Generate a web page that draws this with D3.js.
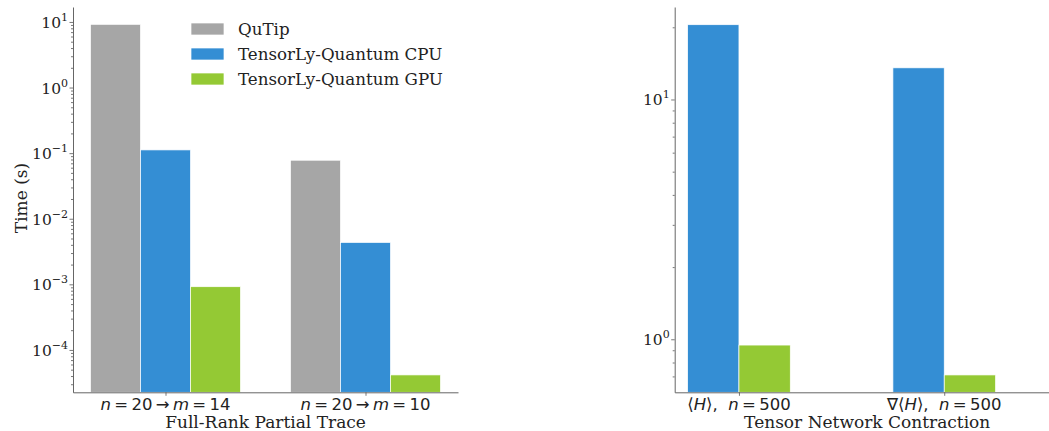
<!DOCTYPE html>
<html>
<head>
<meta charset="utf-8">
<script src="https://cdn.jsdelivr.net/npm/d3@7"></script>
<style>
body { margin: 0; background: #fff; }
svg { display: block; }
</style>
</head>
<body>
<svg id="chart" width="1049" height="431"></svg>
<script>
// series / categories
var seriesNames = ["QuTip", "TensorLy-Quantum CPU", "TensorLy-Quantum GPU"];
var seriesColors = ["#a6a6a6", "#348ed4", "#94c934"];

var traceCats = [["n", "\u2009=\u200920\u2009\u2192\u2009", "m", "\u2009=\u200914"], ["n", "\u2009=\u200920\u2009\u2192\u2009", "m", "\u2009=\u200910"]];
var traceQutip = [9.2, 0.078];
var traceCpu = [0.112, 0.00435];
var traceGpu = [0.00092, 0.0000416];

var tnCats = [["\u27e8", "H", "\u27e9,  ", "n", "\u2009=\u2009500"], ["\u2207\u27e8", "H", "\u27e9,  ", "n", "\u2009=\u2009500"]];
var tnCpu = [20.5, 13.55];
var tnGpu = [0.946, 0.71];

var traceTicks = [-4, -3, -2, -1, 0, 1];
var tnTicks = [0, 1];

var svg = d3.select("#chart");
var serif = "DejaVu Serif";
var sans = "DejaVu Sans";

function panel(opts){
    var x = d3.scaleLinear().domain(opts.xdom).range([opts.left, opts.left + 385]);
    var y = d3.scaleLog().domain(opts.ydom).range([392.3, 7]);
    var g = svg.append("g");

    var bw = 0.25;
    opts.series.forEach(function(s, si){
        g.selectAll(null)
            .data(s.values)
            .enter()
            .append("rect")
            .attr("x", function(d, i){ return x(i + s.offset - bw/2); })
            .attr("width", x(bw) - x(0))
            .attr("y", function(d){ return y(d); })
            .attr("height", function(d){ return 392.3 - y(d); })
            .attr("fill", s.color)
            .attr("stroke", "#fff")
            .attr("stroke-width", 0.7);
    });

    // minor ticks
    var minors = [];
    var lo = Math.floor(Math.log10(opts.ydom[0])), hi = Math.ceil(Math.log10(opts.ydom[1]));
    for (var e = lo; e < hi; e++){
        for (var k = 2; k < 10; k++){
            var v = k * Math.pow(10, e);
            if (v > opts.ydom[0] && v < opts.ydom[1]) minors.push(v);
        }
    }
    var yMinor = g.append("g")
        .attr("transform", "translate(" + opts.left + ",0)")
        .call(d3.axisLeft(y).tickValues(minors).tickFormat("").tickSize(2));
    yMinor.select(".domain").remove();

    var yAxis = g.append("g")
        .attr("transform", "translate(" + opts.left + ",0)")
        .call(d3.axisLeft(y).tickValues(opts.yticks.map(function(e){ return Math.pow(10, e); }))
              .tickFormat("").tickSize(3.5).tickSizeOuter(0));
    g.selectAll(".tick line").attr("stroke", "#555").attr("stroke-width", 0.8);
    yAxis.select(".domain").attr("stroke", "#666").attr("stroke-width", 1);

    opts.yticks.forEach(function(e){
        var t = g.append("text")
            .attr("x", opts.left - 5)
            .attr("y", y(Math.pow(10, e)) + 6)
            .attr("text-anchor", "end")
            .style("font-family", serif)
            .style("font-size", "15.5px")
            .style("fill", "#222");
        t.append("tspan").text("10");
        t.append("tspan").attr("dy", -7).style("font-size", "11px")
            .text(e < 0 ? "\u2212" + (-e) : e);
    });

    var xAxis = g.append("g")
        .attr("transform", "translate(0,392.3)")
        .call(d3.axisBottom(x).tickValues(opts.cats.map(function(c, i){ return i; }))
              .tickFormat("").tickSize(3.5).tickSizeOuter(0));
    xAxis.selectAll(".tick line").attr("stroke", "#555").attr("stroke-width", 0.8);
    xAxis.select(".domain").attr("stroke", "#666").attr("stroke-width", 1);

    opts.cats.forEach(function(parts, i){
        var t = g.append("text")
            .attr("x", x(i))
            .attr("y", 410)
            .attr("text-anchor", "middle")
            .style("font-family", sans)
            .style("font-size", "16.5px")
            .style("fill", "#222")
            .attr("xml:space", "preserve");
        parts.forEach(function(p){
            var sp = t.append("tspan").text(p);
            if (p == "n" || p == "m" || p == "H") sp.style("font-style", "italic");
        });
    });

    g.append("text")
        .attr("x", opts.left + 385/2)
        .attr("y", 428)
        .attr("text-anchor", "middle")
        .style("font-family", serif)
        .style("font-size", "17px")
        .style("fill", "#222")
        .text(opts.xlabel);

    return g;
}

panel({
    left: 73,
    xdom: [-0.4625, 1.4625],
    ydom: [2.26e-5, 16.9],
    yticks: traceTicks,
    cats: traceCats,
    xlabel: "Full-Rank Partial Trace",
    series: [
        {values: traceQutip, offset: -0.25, color: seriesColors[0]},
        {values: traceCpu, offset: 0, color: seriesColors[1]},
        {values: traceGpu, offset: 0.25, color: seriesColors[2]}
    ]
});

panel({
    left: 674.7,
    xdom: [-0.313, 1.5625],
    ydom: [0.601, 24.3],
    yticks: tnTicks,
    cats: tnCats,
    xlabel: "Tensor Network Contraction",
    series: [
        {values: tnCpu, offset: -0.125, color: seriesColors[1]},
        {values: tnGpu, offset: 0.125, color: seriesColors[2]}
    ]
});

svg.append("text")
    .attr("transform", "translate(26.5,198) rotate(-90)")
    .attr("text-anchor", "middle")
    .style("font-family", serif)
    .style("font-size", "17px")
    .style("fill", "#222")
    .text("Time (s)");

// legend
var leg = svg.append("g").attr("transform", "translate(191,29)");
seriesNames.forEach(function(name, i){
    leg.append("rect")
        .attr("x", 0)
        .attr("y", i * 25 - 6)
        .attr("width", 33)
        .attr("height", 12)
        .attr("fill", seriesColors[i])
        .attr("stroke", "#fff")
        .attr("stroke-width", 0.7);
    leg.append("text")
        .attr("x", 47)
        .attr("y", i * 25 + 6)
        .style("font-family", serif)
        .style("font-size", "16.7px")
        .style("fill", "#222")
        .text(name);
});
</script>
</body>
</html>
